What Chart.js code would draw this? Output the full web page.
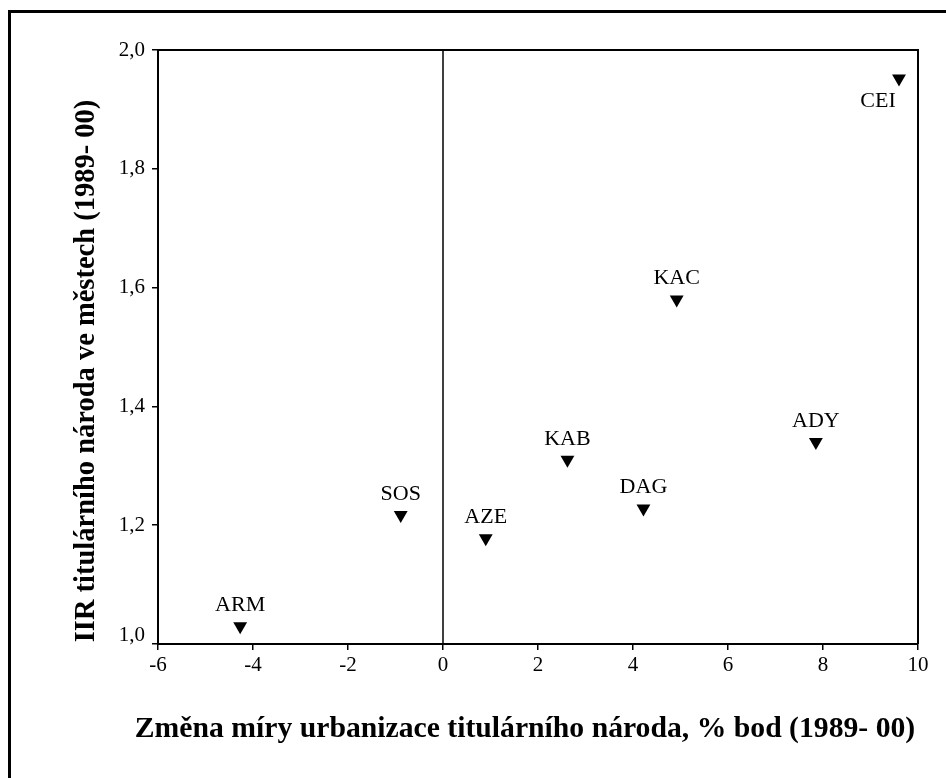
<!DOCTYPE html>
<html>
<head>
<meta charset="utf-8">
<script src="https://cdn.jsdelivr.net/npm/chart.js@4/dist/chart.umd.min.js"></script>
<style>
  html, body { margin: 0; padding: 0; background: #fff; }
  #wrap { width: 946px; height: 778px; }
</style>
</head>
<body>
<div id="wrap"><canvas id="scatter" width="946" height="778"></canvas></div>
<script>
// nations (abbreviations) and their values
var nations = ["ARM", "SOS", "AZE", "KAB", "DAG", "KAC", "ADY", "CEI"];
var urbanChange = [-4.27, -0.89, 0.90, 2.62, 4.22, 4.92, 7.85, 9.60];
var iirCities = [1.030, 1.217, 1.178, 1.310, 1.228, 1.580, 1.340, 1.952];
var xTicks = [-6, -4, -2, 0, 2, 4, 6, 8, 10];
var yTicks = [1.0, 1.2, 1.4, 1.6, 1.8, 2.0];
var xTitle = 'Změna míry urbanizace titulárního národa, % bod (1989- 00)';
var yTitle = 'IIR titulárního národa ve městech (1989- 00)';

var points = urbanChange.map(function (x, i) {
    return { x: x, y: iirCities[i] };
});

var serif = "'Liberation Serif', 'Times New Roman', serif";

function fmt(v) { return v.toFixed(1).replace('.', ','); }

// frame, plot box and the zero line
var framePlugin = {
    id: 'frame',
    beforeDraw: function (chart) {
        var ctx = chart.ctx;
        ctx.save();
        ctx.strokeStyle = '#000';
        ctx.lineWidth = 3;
        ctx.beginPath();
        ctx.moveTo(9.5, 800);
        ctx.lineTo(9.5, 11.5);
        ctx.lineTo(960, 11.5);
        ctx.stroke();
        ctx.restore();
    },
    afterDraw: function (chart) {
        var ctx = chart.ctx;
        var a = chart.chartArea;
        var x0 = chart.scales.x.getPixelForValue(0);
        ctx.save();
        ctx.strokeStyle = '#000';
        ctx.lineWidth = 2;
        ctx.beginPath();
        ctx.moveTo(a.left, a.top);
        ctx.lineTo(a.right, a.top);
        ctx.lineTo(a.right, a.bottom);
        ctx.stroke();
        ctx.lineWidth = 1.5;
        ctx.beginPath();
        ctx.moveTo(x0, a.top);
        ctx.lineTo(x0, a.bottom);
        ctx.stroke();

        // y tick labels, the lowest one lifted clear of the x labels
        var ys = chart.scales.y;
        ctx.fillStyle = '#000';
        ctx.font = '21px ' + serif;
        ctx.textAlign = 'right';
        ctx.textBaseline = 'middle';
        yTicks.forEach(function (v) {
            var py = ys.getPixelForValue(v);
            if (v === ys.min) py -= 9;
            ctx.fillText(fmt(v), a.left - 13, py);
        });

        // axis titles
        ctx.font = 'bold 29.7px ' + serif;
        ctx.textAlign = 'center';
        ctx.textBaseline = 'alphabetic';
        ctx.fillText(xTitle, 525, 737);
        ctx.font = 'bold 28.5px ' + serif;
        ctx.translate(94, 371);
        ctx.rotate(-Math.PI / 2);
        ctx.fillText(yTitle, 0, 0);
        ctx.restore();
    }
};

// nation names next to the markers
var namePlugin = {
    id: 'names',
    afterDatasetsDraw: function (chart) {
        var ctx = chart.ctx;
        var meta = chart.getDatasetMeta(0);
        ctx.save();
        ctx.fillStyle = '#000';
        ctx.font = '22px ' + serif;
        ctx.textAlign = 'center';
        ctx.textBaseline = 'middle';
        meta.data.forEach(function (pt, i) {
            if (nations[i] === 'CEI') {
                ctx.fillText(nations[i], pt.x - 21, pt.y + 23);
            } else {
                ctx.fillText(nations[i], pt.x, pt.y - 21);
            }
        });
        ctx.restore();
    }
};

new Chart(document.getElementById('scatter'), {
    type: 'scatter',
    data: {
        datasets: [{
            data: points,
            pointStyle: 'triangle',
            rotation: 180,
            pointRadius: 8,
            pointHoverRadius: 8,
            backgroundColor: '#000',
            borderColor: '#000',
            borderWidth: 0
        }]
    },
    options: {
        responsive: false,
        animation: false,
        layout: { padding: { left: 0, top: 50, right: 28, bottom: 0 } },
        plugins: {
            legend: { display: false },
            tooltip: { enabled: false }
        },
        scales: {
            x: {
                type: 'linear',
                min: -6,
                max: 10,
                afterFit: function (s) { s.height = 134; },
                afterBuildTicks: function (s) {
                    s.ticks = xTicks.map(function (v) { return { value: v }; });
                },
                ticks: {
                    color: '#000',
                    font: { family: serif, size: 21 },
                    padding: 3,
                    maxRotation: 0
                },
                grid: {
                    drawOnChartArea: false,
                    drawTicks: true,
                    tickLength: 6,
                    color: '#000',
                    lineWidth: 1.5
                },
                border: { color: '#000', width: 2 }
            },
            y: {
                type: 'linear',
                min: 1.0,
                max: 2.0,
                afterFit: function (s) { s.width = 158; },
                afterBuildTicks: function (s) {
                    s.ticks = yTicks.map(function (v) { return { value: v }; });
                },
                ticks: { display: false },
                grid: {
                    drawOnChartArea: false,
                    drawTicks: true,
                    tickLength: 6,
                    color: '#000',
                    lineWidth: 1.5
                },
                border: { color: '#000', width: 2 }
            }
        }
    },
    plugins: [framePlugin, namePlugin]
});
</script>
</body>
</html>
